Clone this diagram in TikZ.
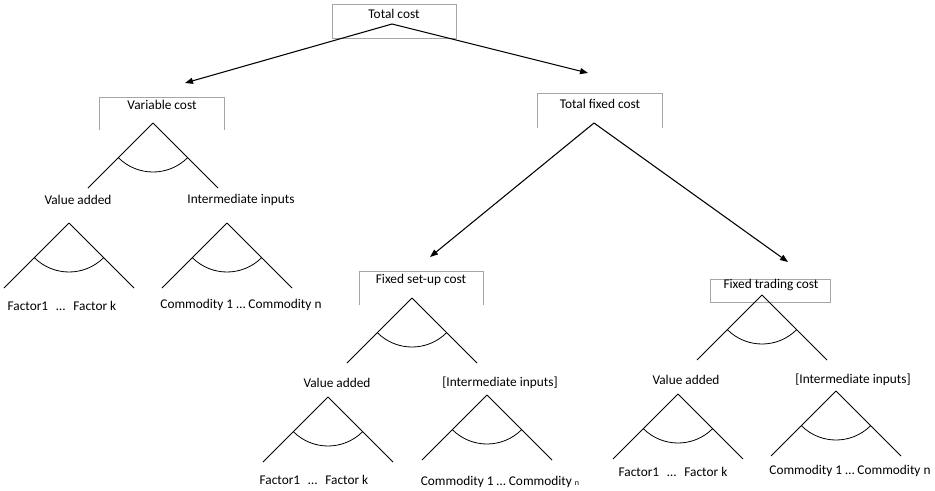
\documentclass[tikz,border=0pt]{standalone}
\usepackage{fontspec}
\setmainfont{Carlito}
\usetikzlibrary{arrows.meta}

% one nest: apex, two legs and the arc between them
\newcommand{\nestshape}[2]{%
  \coordinate (#1) at #2;
  \draw[nestline] (#1) -- ++(-65,65) coordinate (#1-l);
  \draw[nestline] (#1) -- ++(65,65) coordinate (#1-r);
  \draw[nestline] (#1) ++(135:49) arc[start angle=135, end angle=45, radius=49];
}

\begin{document}
\begin{tikzpicture}[x=0.75pt, y=-0.75pt, font=\fontsize{10}{12}\selectfont,
  nestline/.style={line width=0.6pt},
  costarrow/.style={line width=0.8pt, -{Triangle[length=6pt, width=4.5pt]}},
  boxline/.style={draw=gray!70, line width=0.6pt},
  every node/.style={inner sep=1pt}]
  \useasboundingbox (0,0) rectangle (935,490);

  % Top: total cost
  \node[boxline, minimum width=93pt, minimum height=25.5pt] (tcbox) at (394,21) {};
  \node (tclbl) at (394,14) {Total cost};
  \coordinate (tc) at (392,24);
  \coordinate (vctip) at (185,83);
  \coordinate (tftip) at (588,73);
  \draw[costarrow] (tc) -- (vctip);
  \draw[costarrow] (tc) -- (tftip);

  % Variable cost
  \node[minimum width=93pt, minimum height=24pt] (vcbox) at (162,114) {};
  \draw[boxline] (vcbox.south west) |- (vcbox.north) -| (vcbox.south east);
  \node (vclbl) at (162,105) {Variable cost};
  \nestshape{vc}{(153,123)}
  \node (va1lbl) at (78,200) {Value added};
  \nestshape{va1}{(69,223)}
  \node (ii1lbl) at (241,200) {Intermediate inputs};
  \nestshape{ii1}{(227,223)}
  \node (f1lbl) at (62,306) {Factor1\hspace{0.6em}…\hspace{0.6em}Factor k};
  \node (c1lbl) at (241,305) {Commodity 1 … Commodity n};

  % Total fixed cost
  \node[minimum width=93pt, minimum height=25.5pt] (tfbox) at (600,111) {};
  \draw[boxline] (tfbox.south west) |- (tfbox.north) -| (tfbox.south east);
  \node (tflbl) at (600,104) {Total fixed cost};
  \coordinate (tf) at (594,123);
  \coordinate (fstip) at (430,257);
  \coordinate (fttip) at (788,262);
  \draw[costarrow] (tf) -- (fstip);
  \draw[costarrow] (tf) -- (fttip);

  % Fixed set-up cost
  \node[minimum width=92.25pt, minimum height=24.75pt] (fsbox) at (421.5,288.5) {};
  \draw[boxline] (fsbox.south west) |- (fsbox.north) -| (fsbox.south east);
  \node (fslbl) at (421,280) {Fixed set-up cost};
  \nestshape{fs}{(412,298)}
  \node (va2lbl) at (337,383) {Value added};
  \nestshape{va2}{(328,397)}
  \node (ii2lbl) at (500,383) {[Intermediate inputs]};
  \nestshape{ii2}{(487,395)}
  \node (f2lbl) at (314,480) {Factor1\hspace{0.6em}…\hspace{0.6em}Factor k};
  \node (c2lbl) at (500,482) {Commodity 1 … Commodity {\fontsize{6}{7}\selectfont n}};

  % Fixed trading cost
  \node[boxline, minimum width=90pt, minimum height=17.25pt] (ftbox) at (770,290.5) {};
  \node (ftlbl) at (771,285) {Fixed trading cost};
  \nestshape{ft}{(762,295)}
  \node (va3lbl) at (686,380) {Value added};
  \nestshape{va3}{(678,394)}
  \node (ii3lbl) at (853,380) {[Intermediate inputs]};
  \nestshape{ii3}{(836,391)}
  \node (f3lbl) at (673,472) {Factor1\hspace{0.6em}…\hspace{0.6em}Factor k};
  \node (c3lbl) at (850,471) {Commodity 1 … Commodity n};
\end{tikzpicture}
\end{document}
